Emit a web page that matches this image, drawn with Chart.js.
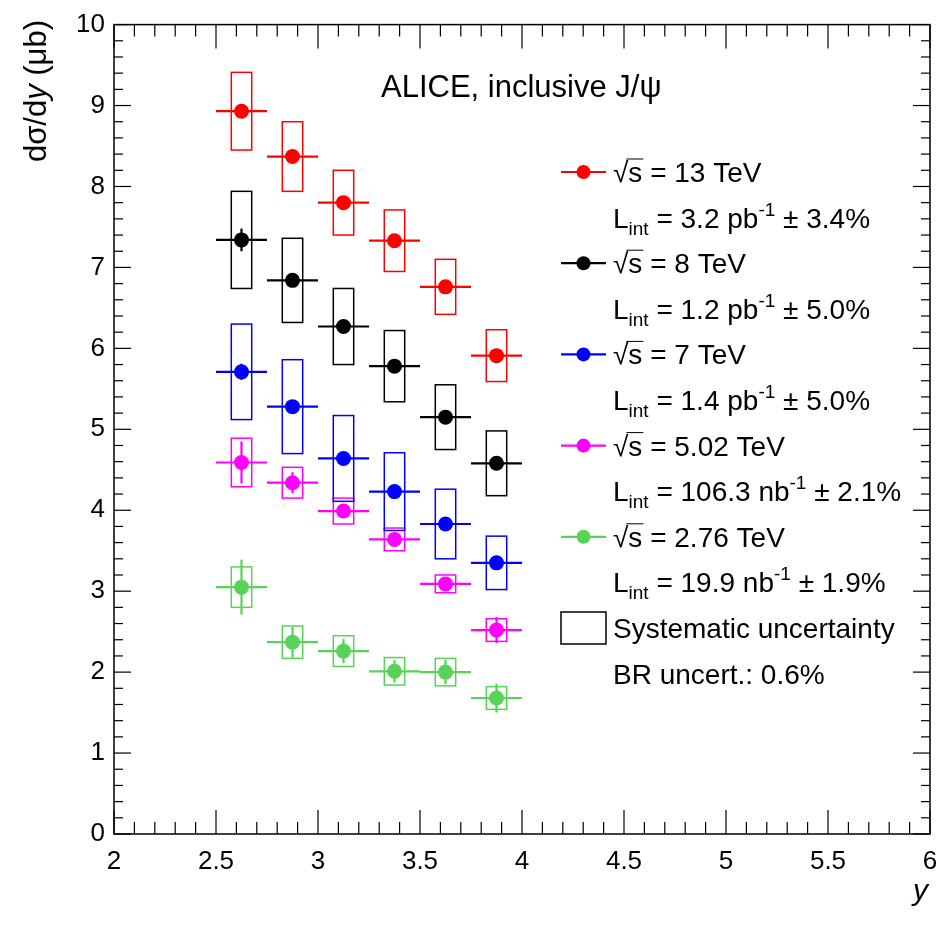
<!DOCTYPE html>
<html>
<head>
<meta charset="utf-8">
<script src="https://cdn.jsdelivr.net/npm/chart.js@4.4.1/dist/chart.umd.min.js"></script>
<style>
  body { margin: 0; background: #fff; }
  canvas { display: block; }
</style>
</head>
<body>
<canvas id="chart" width="950" height="928"></canvas>
<script>
// rapidity bins (2.5 < y < 4)
const binLow  = [2.5, 2.75, 3.0, 3.25, 3.5, 3.75];
const binHigh = [2.75, 3.0, 3.25, 3.5, 3.75, 4.0];
const binMid  = [2.625, 2.875, 3.125, 3.375, 3.625, 3.875];

const energies = ['13', '8', '7', '5.02', '2.76'];
const colors   = ['#ff0000', '#000000', '#0000ff', '#ff00ff', '#57d357'];
const lumis    = ['3.2 pb', '1.2 pb', '1.4 pb', '106.3 nb', '19.9 nb'];
const lumiUnc  = ['3.4%', '5.0%', '5.0%', '2.1%', '1.9%'];

// d sigma / dy (mub), stat and syst uncertainties
const xsec13 = [8.93, 8.37, 7.80, 7.33, 6.76, 5.91];
const stat13 = [0.08, 0.05, 0.05, 0.05, 0.05, 0.05];
const syst13 = [0.48, 0.43, 0.40, 0.38, 0.34, 0.32];

const xsec8 = [7.34, 6.84, 6.27, 5.78, 5.15, 4.58];
const stat8 = [0.14, 0.06, 0.06, 0.06, 0.06, 0.06];
const syst8 = [0.60, 0.52, 0.47, 0.44, 0.40, 0.40];

const xsec7 = [5.71, 5.28, 4.64, 4.23, 3.83, 3.35];
const stat7 = [0.10, 0.06, 0.06, 0.06, 0.06, 0.06];
const syst7 = [0.59, 0.58, 0.53, 0.48, 0.43, 0.33];

const xsec502 = [4.59, 4.34, 3.99, 3.64, 3.09, 2.52];
const stat502 = [0.26, 0.13, 0.08, 0.05, 0.04, 0.16];
const syst502 = [0.30, 0.19, 0.16, 0.14, 0.11, 0.14];

const xsec276 = [3.05, 2.37, 2.26, 2.01, 2.00, 1.68];
const stat276 = [0.34, 0.19, 0.15, 0.14, 0.15, 0.18];
const syst276 = [0.25, 0.20, 0.19, 0.17, 0.17, 0.14];

const xTicks = [2, 2.5, 3, 3.5, 4, 4.5, 5, 5.5, 6];
const yTicks = [0, 1, 2, 3, 4, 5, 6, 7, 8, 9, 10];

const allXsec = [xsec13, xsec8, xsec7, xsec502, xsec276];
const allStat = [stat13, stat8, stat7, stat502, stat276];
const allSyst = [syst13, syst8, syst7, syst502, syst276];

const FONT = '"Liberation Sans", Arial, Helvetica, sans-serif';
const boxHalf = 0.05;

const datasets = energies.map((e, k) => ({
  label: e + ' TeV',
  data: binMid.map((m, i) => ({
    x: m, y: allXsec[k][i], lo: binLow[i], hi: binHigh[i],
    stat: allStat[k][i], syst: allSyst[k][i]
  })),
  backgroundColor: colors[k],
  borderColor: colors[k],
  borderWidth: 0,
  pointRadius: 7.5,
  pointHoverRadius: 7.5,
  showLine: false
}));

function line(ctx, x0, y0, x1, y1) {
  ctx.beginPath();
  ctx.moveTo(x0, y0);
  ctx.lineTo(x1, y1);
  ctx.stroke();
}

// draw a row of text pieces with different fonts / offsets
function richText(ctx, x, y, parts) {
  parts.forEach(p => {
    ctx.font = p.font;
    ctx.fillText(p.t, x, y + (p.dy || 0));
    x += ctx.measureText(p.t).width;
  });
  return x;
}

const errorBars = {
  id: 'errorBars',
  beforeDatasetsDraw(chart) {
    const { ctx, scales: { x, y } } = chart;
    ctx.save();
    chart.data.datasets.slice().reverse().forEach(ds => {
      ctx.strokeStyle = ds.borderColor;
      ds.data.forEach(p => {
        const px = x.getPixelForValue(p.x);
        const py = y.getPixelForValue(p.y);
        // systematic box
        ctx.lineWidth = 1.5;
        const bx0 = x.getPixelForValue(p.x - boxHalf);
        const bx1 = x.getPixelForValue(p.x + boxHalf);
        const by0 = y.getPixelForValue(p.y + p.syst);
        const by1 = y.getPixelForValue(p.y - p.syst);
        ctx.strokeRect(bx0, by0, bx1 - bx0, by1 - by0);
        // bin width + stat
        ctx.lineWidth = 2.2;
        line(ctx, x.getPixelForValue(p.lo), py, x.getPixelForValue(p.hi), py);
        line(ctx, px, y.getPixelForValue(p.y + p.stat), px, y.getPixelForValue(p.y - p.stat));
      });
    });
    ctx.restore();
  }
};

const frameAndText = {
  id: 'frameAndText',
  afterDraw(chart) {
    const { ctx, chartArea: a, scales: { x, y } } = chart;
    ctx.save();
    ctx.strokeStyle = '#000';
    ctx.lineWidth = 1.5;
    ctx.strokeRect(a.left, a.top, a.right - a.left, a.bottom - a.top);

    // ROOT style inner ticks, all four sides
    ctx.lineWidth = 1.2;
    for (let i = 0; i <= 40; i++) {
      const v = 2 + i * 0.1;
      const px = x.getPixelForValue(v);
      const len = i % 5 === 0 ? 24 : 12;
      line(ctx, px, a.bottom, px, a.bottom - len);
      line(ctx, px, a.top, px, a.top + len);
    }
    for (let i = 0; i <= 50; i++) {
      const v = i * 0.2;
      const py = y.getPixelForValue(v);
      const len = i % 5 === 0 ? 17 : 9;
      line(ctx, a.left, py, a.left + len, py);
      line(ctx, a.right, py, a.right - len, py);
    }

    ctx.fillStyle = '#000';
    ctx.textBaseline = 'alphabetic';
    ctx.textAlign = 'left';

    // y axis title, rotated, aligned to top
    const yParts = [
      { t: 'd\u03c3/d', font: '31px ' + FONT },
      { t: 'y', font: 'italic 31px ' + FONT },
      { t: ' (\u03bcb)', font: '31px ' + FONT }
    ];
    let w = 0;
    yParts.forEach(p => { ctx.font = p.font; w += ctx.measureText(p.t).width; });
    ctx.save();
    ctx.translate(46, 20 + w);
    ctx.rotate(-Math.PI / 2);
    richText(ctx, 0, 0, yParts);
    ctx.restore();

    // x axis title
    ctx.font = 'italic 30px ' + FONT;
    ctx.textAlign = 'right';
    ctx.fillText('y', a.right - 2, 900);
    ctx.textAlign = 'left';

    // header
    ctx.font = '31px ' + FONT;
    ctx.fillText('ALICE, inclusive J/\u03c8', 381, 97);

    // legend
    const big = '28px ' + FONT, small = '19px ' + FONT;
    const lx0 = 561, lx1 = 606, tx = 613, top = 172, step = 45.6;
    chart.data.datasets.forEach((ds, k) => {
      const cy = top + 2 * k * step;
      ctx.strokeStyle = ds.borderColor;
      ctx.fillStyle = ds.backgroundColor;
      ctx.lineWidth = 2.2;
      line(ctx, lx0, cy, lx1, cy);
      ctx.beginPath();
      ctx.arc((lx0 + lx1) / 2, cy, 7, 0, Math.PI * 2);
      ctx.fill();

      ctx.fillStyle = '#000';
      ctx.strokeStyle = '#000';
      const base = cy + 10;
      ctx.font = big;
      const rw = ctx.measureText('\u221a').width;
      const sw = ctx.measureText('s').width;
      ctx.fillText('\u221a', tx, base);
      ctx.fillText('s', tx + rw, base);
      ctx.lineWidth = 1;
      line(ctx, tx + rw - 2, base - 23, tx + rw + sw + 1, base - 23);
      ctx.fillText(' = ' + energies[k] + ' TeV', tx + rw + sw, base);

      const base2 = cy + step + 10;
      richText(ctx, tx, base2, [
        { t: 'L', font: big },
        { t: 'int', font: small, dy: 7 },
        { t: ' = ' + lumis[k], font: big },
        { t: '-1', font: small, dy: -12 },
        { t: ' \u00b1 ' + lumiUnc[k], font: big }
      ]);
    });
    const cySys = top + 10 * step;
    ctx.lineWidth = 1.5;
    ctx.strokeStyle = '#000';
    ctx.strokeRect(lx0, cySys - 16, lx1 - lx0, 32);
    ctx.font = big;
    ctx.fillText('Systematic uncertainty', tx, cySys + 10);
    ctx.fillText('BR uncert.: 0.6%', tx, top + 11 * step + 10);
    ctx.restore();
  }
};

new Chart(document.getElementById('chart'), {
  type: 'scatter',
  data: { datasets },
  options: {
    responsive: false,
    animation: false,
    events: [],
    layout: { padding: { top: 19, right: 20, left: 0, bottom: 0 } },
    plugins: { legend: { display: false }, tooltip: { enabled: false } },
    scales: {
      x: {
        type: 'linear',
        min: 2, max: 6,
        afterFit: s => { s.height = 94; },
        afterBuildTicks: s => { s.ticks = xTicks.map(v => ({ value: v })); },
        grid: { display: false, drawTicks: false },
        border: { display: false },
        ticks: { color: '#000', font: { family: FONT, size: 26 }, padding: 12, maxRotation: 0,
                 callback: v => String(v) }
      },
      y: {
        type: 'linear',
        min: 0, max: 10,
        afterFit: s => { s.width = 114; },
        afterBuildTicks: s => { s.ticks = yTicks.map(v => ({ value: v })); },
        grid: { display: false, drawTicks: false },
        border: { display: false },
        ticks: { color: '#000', font: { family: FONT, size: 26 }, padding: 9,
                 callback: v => String(v) }
      }
    }
  },
  plugins: [errorBars, frameAndText]
});
</script>
</body>
</html>
